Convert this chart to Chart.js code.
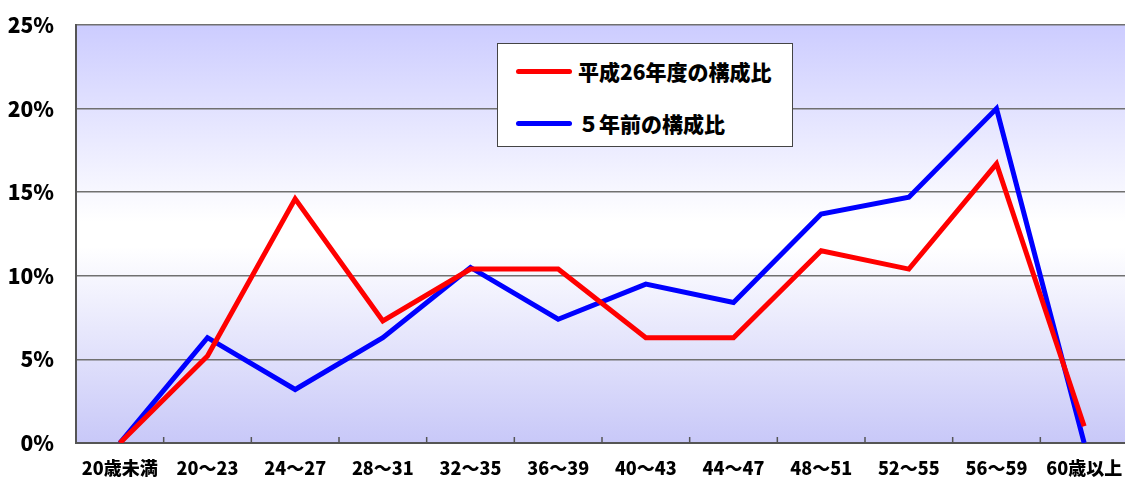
<!DOCTYPE html>
<html><head><meta charset="utf-8">
<script src="https://cdn.jsdelivr.net/npm/chart.js@4.4.0/dist/chart.umd.min.js"></script>
<style>
html,body{margin:0;padding:0;background:#fff;overflow:hidden;width:1125px;height:477px;}
#wrap{position:relative;width:1128px;height:477px;}
#legend{position:absolute;left:497px;top:43px;width:294px;height:102px;background:#fff;border:1px solid #444;
font-family:"Noto Sans CJK JP","Noto Sans",sans-serif;font-weight:900;font-size:21px;color:#000;}
.item{position:absolute;left:18px;display:flex;align-items:center;}
.sw{width:56px;height:5px;border-radius:3px;margin-right:6px;}
</style></head>
<body><div id="wrap"><canvas id="c" width="1128" height="477"></canvas><div id="legend"></div></div>
<script>
const categories = ["20歳未満","20～23","24～27","28～31","32～35","36～39","40～43","44～47","48～51","52～55","56～59","60歳以上"];
const seriesNames = ["平成26年度の構成比","５年前の構成比"];
const currentValues = [0, 5.2, 14.6, 7.3, 10.4, 10.4, 6.3, 6.3, 11.5, 10.4, 16.7, 1.0];
const fiveYearsAgoValues = [0, 6.3, 3.2, 6.3, 10.5, 7.4, 9.5, 8.4, 13.7, 14.7, 20.0, 0];
const yTicks = [0, 5, 10, 15, 20, 25];
const colors = ["#ff0000", "#0000ff"];
const FONT = '"Noto Sans CJK JP","Noto Sans",sans-serif';

const bgPlugin = {
  id: 'bg',
  beforeDraw(chart) {
    const {ctx, chartArea: a} = chart;
    const g = ctx.createLinearGradient(0, a.top, 0, a.bottom);
    g.addColorStop(0, '#ccccff');
    g.addColorStop(0.47, '#ffffff');
    g.addColorStop(0.53, '#ffffff');
    g.addColorStop(1, '#c8c8f8');
    ctx.save();
    ctx.fillStyle = g;
    ctx.fillRect(a.left, a.top, a.right - a.left, a.bottom - a.top);
    ctx.restore();
  },
  afterDatasetsDraw(chart) {
    const {ctx, chartArea: a, scales} = chart;
    const x = scales.x;
    ctx.save();
    ctx.strokeStyle = '#555';
    ctx.lineWidth = 1.5;
    for (let i = 0; i < categories.length - 1; i++) {
      const px = (x.getPixelForValue(i) + x.getPixelForValue(i + 1)) / 2;
      ctx.beginPath();
      ctx.moveTo(px, a.bottom);
      ctx.lineTo(px, a.bottom - 6);
      ctx.stroke();
    }
    ctx.restore();
  }
};

const chart = new Chart(document.getElementById('c'), {
  type: 'line',
  data: {
    labels: categories,
    datasets: [
      {label: seriesNames[0], data: currentValues, borderColor: colors[0], backgroundColor: colors[0], borderWidth: 5, pointRadius: 0, tension: 0, fill: false},
      {label: seriesNames[1], data: fiveYearsAgoValues, borderColor: colors[1], backgroundColor: colors[1], borderWidth: 5, pointRadius: 0, tension: 0, fill: false}
    ]
  },
  options: {
    responsive: false,
    animation: false,
    layout: {padding: {top: 25, right: 0, left: 0, bottom: 0}},
    plugins: {legend: {display: false}, tooltip: {enabled: false}},
    scales: {
      x: {
        offset: true,
        grid: {display: false},
        border: {display: true, color: '#555', width: 2},
        ticks: {color: '#000', padding: 6, maxRotation: 0, autoSkip: false,
          font: {family: FONT, weight: 900, size: 18}},
        afterFit(s) { s.height = 34; s.paddingLeft = 0; s.paddingRight = 0; }
      },
      y: {
        min: 0, max: 25,
        afterBuildTicks(s) { s.ticks = yTicks.map(v => ({value: v})); },
        grid: {color: '#707070', lineWidth: 1.5, drawTicks: false},
        border: {display: true, color: '#555', width: 2},
        ticks: {color: '#000', padding: 22, callback: v => v + '%',
          font: {family: FONT, weight: 900, size: 21}},
        afterFit(s) { s.width = 76; s.paddingTop = 0; s.paddingBottom = 0; }
      }
    }
  },
  plugins: [bgPlugin]
});

const leg = document.getElementById('legend');
chart.data.datasets.forEach((ds, i) => {
  const d = document.createElement('div');
  d.className = 'item';
  d.style.top = (i === 0 ? 12 : 64) + 'px';
  d.innerHTML = '<span class="sw" style="background:' + ds.borderColor + '"></span><span>' + ds.label + '</span>';
  leg.appendChild(d);
});
</script>
</body></html>
